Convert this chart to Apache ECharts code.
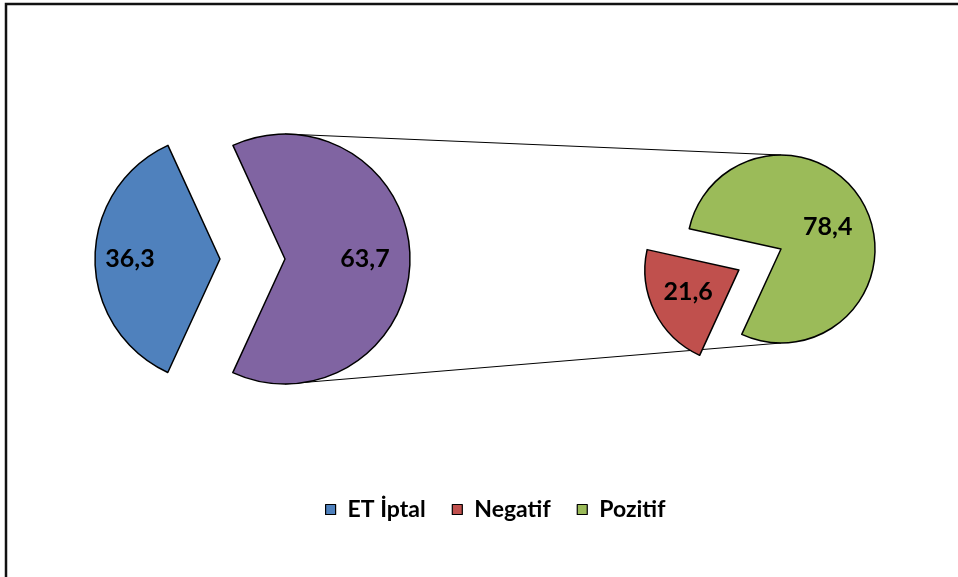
<!DOCTYPE html>
<html>
<head>
<meta charset="utf-8">
<title>ET İptal / Negatif / Pozitif</title>
<script src="https://cdn.jsdelivr.net/npm/echarts@6/dist/echarts.min.js"></script>
<style>
  html, body { margin: 0; padding: 0; background: #fff; }
  #chart { width: 958px; height: 577px; }
</style>
</head>
<body>
<div id="chart"></div>
<script>
// First pie: ET İptal against the remainder that is split in the second pie
const mainNames = ['ET İptal', 'Diğer'];
const mainValues = [36.3, 63.7];
// Second pie: breakdown of the remainder
const subNames = ['Negatif', 'Pozitif'];
const subValues = [21.6, 78.4];
const legendNames = ['ET İptal', 'Negatif', 'Pozitif'];

const colors = {
  'ET İptal': '#4F81BD',
  'Diğer': '#8064A2',
  'Negatif': '#C0504D',
  'Pozitif': '#9BBB59'
};

// Layout of the two pies
const FONT = 'Lato, "Open Sans", sans-serif';
const mainCenter = [252.5, 259];
const mainRadius = 125;
const mainExplode = 32.5;
const subCenter = [781, 249];
const subRadius = 94;
const subExplode = 47;
const startAngle = 245.3;

// label nudges (padding shifts the text box inside the slice)
const labelPads = {
  'ET İptal': [4, 49, 0, 0],
  'Diğer': [4, 0, 0, 29],
  'Negatif': [8, 12, 0, 0],
  'Pozitif': [0, 0, 7, 4]
};

function sliceData(names, values, selectedSet) {
  return names.map((n, i) => ({
    name: n,
    value: values[i],
    selected: selectedSet.indexOf(n) >= 0,
    itemStyle: { color: colors[n] },
    label: { padding: labelPads[n] }
  }));
}

const sliceStyle = { borderColor: '#000', borderWidth: 1.5 };
const labelStyle = {
  show: true,
  position: 'inside',
  color: '#000',
  fontFamily: FONT,
  fontWeight: 'bold',
  fontSize: 25,
  formatter: p => String(p.value).replace('.', ',')
};

// Where the exploded remainder slice sits: its mid angle in the first pie
const total = mainValues[0] + mainValues[1];
const restMid = startAngle - (mainValues[0] + mainValues[1] / 2) / total * 360;
const restRad = restMid * Math.PI / 180;
const restCx = mainCenter[0] + mainExplode * Math.cos(restRad);
const restCy = mainCenter[1] - mainExplode * Math.sin(restRad);

const chart = echarts.init(document.getElementById('chart'), null, { renderer: 'canvas' });

chart.setOption({
  backgroundColor: '#fff',
  animation: false,
  legend: {
    data: legendNames,
    left: 320,
    top: 493,
    itemWidth: 10,
    itemHeight: 10,
    itemGap: 26,
    icon: 'rect',
    itemStyle: { borderColor: '#000', borderWidth: 1.2 },
    textStyle: {
      color: '#000',
      fontFamily: FONT,
      fontWeight: 'bold',
      fontSize: 23,
      padding: [0, 0, 0, 7]
    },
    selectedMode: false
  },
  graphic: [
    {
      type: 'rect',
      z: -10,
      shape: { x: 6, y: 4, width: 1200, height: 1200 },
      style: { fill: 'none', stroke: '#111', lineWidth: 2.5 }
    },
    {
      type: 'line',
      z: -5,
      shape: { x1: restCx, y1: restCy - mainRadius, x2: subCenter[0], y2: subCenter[1] - subRadius },
      style: { stroke: '#000', lineWidth: 1 }
    },
    {
      type: 'line',
      z: -5,
      shape: { x1: restCx, y1: restCy + mainRadius, x2: subCenter[0], y2: subCenter[1] + subRadius },
      style: { stroke: '#000', lineWidth: 1 }
    }
  ],
  series: [
    {
      type: 'pie',
      center: mainCenter,
      radius: [0, mainRadius],
      startAngle: startAngle,
      clockwise: true,
      selectedMode: 'multiple',
      selectedOffset: mainExplode,
      avoidLabelOverlap: false,
      itemStyle: sliceStyle,
      label: labelStyle,
      labelLine: { show: false },
      emphasis: { disabled: true },
      select: { itemStyle: sliceStyle },
      data: sliceData(mainNames, mainValues, mainNames)
    },
    {
      type: 'pie',
      center: subCenter,
      radius: [0, subRadius],
      startAngle: startAngle,
      clockwise: true,
      selectedMode: 'multiple',
      selectedOffset: subExplode,
      avoidLabelOverlap: false,
      itemStyle: sliceStyle,
      label: labelStyle,
      labelLine: { show: false },
      emphasis: { disabled: true },
      select: { itemStyle: sliceStyle },
      data: sliceData(subNames, subValues, ['Negatif'])
    }
  ]
});
</script>
</body>
</html>
